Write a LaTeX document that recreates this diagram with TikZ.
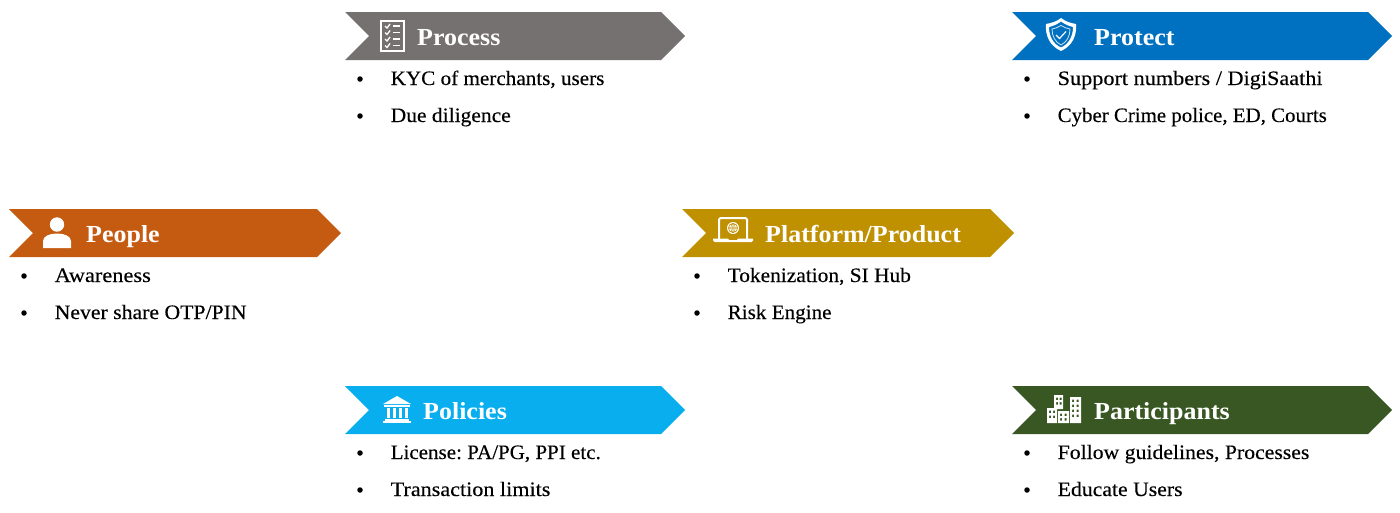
\documentclass[tikz,border=0pt]{standalone}
\usepackage{fontspec}
\usepackage{graphicx}
\setmainfont{Liberation Serif}[FakeStretch=1.06]
\newfontfamily\itemfont{Liberation Serif}[FakeStretch=1.06,RawFeature={embolden=0.25}]
\newcommand{\xs}[2]{\scalebox{#1}[1]{#2}}
\definecolor{cgray}{HTML}{767171}
\definecolor{cblue}{HTML}{0070C0}
\definecolor{corange}{HTML}{C55A11}
\definecolor{cgold}{HTML}{BF9000}
\definecolor{ccyan}{HTML}{09AEEF}
\definecolor{cgreen}{HTML}{385723}
\tikzset{
  title/.style={anchor=base west,inner sep=0pt,text=white,font=\fontsize{24.5}{28}\selectfont\bfseries\frenchspacing},
  item/.style={anchor=base west,inner sep=0pt,text=black,font=\fontsize{20.5}{24}\selectfont\itemfont\frenchspacing},
  bul/.style={anchor=center,inner sep=0pt,circle,fill=black,minimum size=5.5pt},
  iconw/.style={fill=white,draw=none},
}
% #1 name, #2 colour, #3 x left, #4 x right, #5 y top, #6 title x, #7 title, #8 item1, #9 item2
\newcommand{\banner}[9]{%
  \fill[#2] (#3,#5) -- (#4-24,#5) -- (#4,#5+24) -- (#4-24,#5+48) -- (#3,#5+48) -- (#3+24,#5+24) -- cycle;
  \node[title] (#1t) at (#6,#5+33) {#7};
  \node[bul] (#1b1) at (#3+15,#5+67) {};
  \node[bul] (#1b2) at (#3+15,#5+104) {};
  \node[item] (#1i1) at (#3+45.5,#5+73) {#8};
  \node[item] (#1i2) at (#3+45.5,#5+110) {#9};
}
\begin{document}
\begin{tikzpicture}[x=1pt,y=-1pt]
\useasboundingbox (0,0) rectangle (1400,512);
\banner{proc}{cgray}{345}{685}{12}{417}{Process}{\xs{0.973}{KYC of merchants, users}}{\xs{0.99}{Due diligence}}
\banner{prot}{cblue}{1012}{1392}{12}{1094}{Protect}{\xs{1.023}{Support numbers / DigiSaathi}}{\xs{0.961}{Cyber Crime police, ED, Courts}}
\banner{peop}{corange}{9}{341}{209}{86}{People}{\xs{1.03}{Awareness}}{Never share OTP/PIN}
\banner{plat}{cgold}{682}{1014}{209}{765}{Platform/Product}{\xs{0.984}{Tokenization, SI Hub}}{\xs{0.972}{Risk Engine}}
\banner{poli}{ccyan}{345}{685}{386}{423}{Policies}{\xs{0.968}{License: PA/PG, PPI etc.}}{\xs{1.019}{Transaction limits}}
\banner{part}{cgreen}{1012}{1392}{386}{1094}{Participants}{Follow guidelines, Processes}{Educate Users}
% checklist icon
\draw[white,line width=2.2pt] (381.2,21) rectangle (403.8,51);
\foreach \y in {26,32.5,39,45.5}{
  \draw[white,line width=1.3pt] (385,\y) -- (387,\y+2) -- (390,\y-2);
  \draw[white,line width=1.6pt] (393,\y) -- (400,\y);
}
% shield icon
\path[iconw,even odd rule] (1061,18) .. controls (1056,22) and (1051,23) .. (1046,24) .. controls (1045,36) and (1050,46) .. (1061,51) .. controls (1072,46) and (1077,36) .. (1076,24) .. controls (1071,23) and (1066,22) .. (1061,18) -- cycle
  (1061,21.5) .. controls (1057,24.5) and (1053,26) .. (1049,27) .. controls (1049,36) and (1053,44) .. (1061,47.5) .. controls (1069,44) and (1073,36) .. (1073,27) .. controls (1069,26) and (1065,24.5) .. (1061,21.5) -- cycle;
\draw[white!80!cblue,line width=0.8pt] (1061,25.5) .. controls (1058,27.5) and (1055,28.5) .. (1052,29) .. controls (1052,36) and (1055,42) .. (1061,45) .. controls (1067,42) and (1070,36) .. (1070,29) .. controls (1067,28.5) and (1064,27.5) .. (1061,25.5) -- cycle;
\draw[white,line width=1.2pt] (1056,35) -- (1059.5,38.5) -- (1066,31.5);
% person icon
\fill[white] (57,224.5) circle (7.2);
\path[iconw] (43,248) -- (43,241) .. controls (43,236) and (50,233.5) .. (57,233.5) .. controls (64,233.5) and (71,236) .. (71,241) -- (71,248) -- cycle;
% laptop icon
\draw[white,line width=2pt,rounded corners=1.5pt] (719,239) -- (719,218) -- (747,218) -- (747,239);
\path[iconw] (713,238.5) -- (728,238.5) -- (729,240) -- (737,240) -- (738,238.5) -- (753,238.5) -- (753,240.5) -- (751.5,242) -- (714.5,242) -- (713,240.5) -- cycle;
\fill[white] (733,228) circle (6);
\draw[cgold,line width=0.6pt] (733,228) circle (4.6) (728.4,228) -- (737.6,228) (733,223.4) -- (733,232.6);
\draw[cgold,line width=0.5pt] (733,228) ellipse (2.2 and 4.6);
% bank icon
\path[iconw] (397,396) -- (411,404) -- (383,404) -- cycle;
\path[iconw] (384,405) rectangle (410,406.5);
\foreach \x in {386.5,392.5,398.5,404.5}{\path[iconw] (\x,407.5) rectangle (\x+3.5,418);}
\path[iconw] (385,419) rectangle (409,420.5);
\path[iconw] (383,421) rectangle (411,423);
% city icon
\path[iconw,even odd rule] (1054,395) rectangle (1063,409) (1056,397.5) rectangle (1058,400) (1059.5,397.5) rectangle (1061.5,400) (1056,402) rectangle (1058,404.5) (1059.5,402) rectangle (1061.5,404.5);
\path[iconw,even odd rule] (1047,408) rectangle (1057,423) (1049,410.5) rectangle (1051,413) (1053,410.5) rectangle (1055,413) (1049,415.5) rectangle (1051,418) (1053,415.5) rectangle (1055,418);
\path[iconw,even odd rule] (1058,411) rectangle (1069,423) (1060,413.5) rectangle (1062,416) (1064.5,413.5) rectangle (1066.5,416) (1060,418) rectangle (1062,420.5) (1064.5,418) rectangle (1066.5,420.5);
\path[iconw,even odd rule] (1070,397) rectangle (1081,423) (1072,399.5) rectangle (1074,402) (1076.5,399.5) rectangle (1078.5,402) (1072,404.5) rectangle (1074,407) (1076.5,404.5) rectangle (1078.5,407) (1072,409.5) rectangle (1074,412) (1076.5,409.5) rectangle (1078.5,412) (1072,414.5) rectangle (1074,417) (1076.5,414.5) rectangle (1078.5,417);
\end{tikzpicture}
\end{document}
